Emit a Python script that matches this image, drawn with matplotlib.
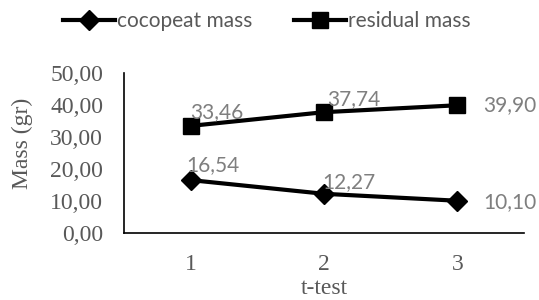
import matplotlib
matplotlib.use("Agg")
import matplotlib.pyplot as plt

plt.rcParams["font.serif"] = ["Liberation Serif", "DejaVu Serif"]

x_cats = [1, 2, 3]
cocopeat = [16.54, 12.27, 10.10]
residual = [33.46, 37.74, 39.90]
y_ticks = [0, 10, 20, 30, 40, 50]

def fmt(v):
    return f"{v:.2f}".replace(".", ",")

fig = plt.figure(figsize=(5.39, 3.0), dpi=100)
ax = fig.add_axes([0.230, 0.223, 0.742, 0.534])

l1, = ax.plot(x_cats, cocopeat, color="black", lw=3, marker="D", markersize=10, label="cocopeat mass")
l2, = ax.plot(x_cats, residual, color="black", lw=3, marker="s", markersize=12, label="residual mass")

ax.set_xlim(0.5, 3.5)
ax.set_ylim(0, 50)
ax.set_yticks(y_ticks)
ax.set_yticklabels([fmt(v) for v in y_ticks])
ax.set_xticks(x_cats)
ax.set_xticklabels([str(v) for v in x_cats])
for s in ["top", "right"]:
    ax.spines[s].set_visible(False)
for s in ["left", "bottom"]:
    ax.spines[s].set_linewidth(1.2)
ax.tick_params(axis="y", length=0, pad=15)
ax.tick_params(axis="x", length=0, pad=15)
for lab in ax.get_yticklabels() + ax.get_xticklabels():
    lab.set_fontfamily("serif")
    lab.set_color("#595959")
    lab.set_fontsize(17)

ax.set_ylabel("Mass (gr)", fontfamily="serif", fontsize=17, color="#595959")
ax.yaxis.set_label_coords(-0.228, 0.56)
ax.set_xlabel("t-test", fontfamily="serif", fontsize=17, color="#595959", labelpad=2)

lab_font = dict(fontfamily="Lato", fontsize=15, color="#7f7f7f")
coc_off = [(-3, 11), (-1.5, 8.5), (19, -1)]
res_off = [(0, 10), (2, 9.5), (19, 0)]
for xv, yv, off in zip(x_cats, cocopeat, coc_off):
    ax.annotate(fmt(yv), (xv, yv), xytext=off, textcoords="offset points",
                ha="left", va="center", **lab_font)
for xv, yv, off in zip(x_cats, residual, res_off):
    ax.annotate(fmt(yv), (xv, yv), xytext=off, textcoords="offset points",
                ha="left", va="center", **lab_font)

leg = fig.legend(handles=[l1, l2], loc="center", bbox_to_anchor=(0.495, 0.93), ncol=2,
                 frameon=False, handlelength=2.5, columnspacing=2.0, handletextpad=0.1,
                 prop={"family": "Lato", "size": 15})
for t in leg.get_texts():
    t.set_color("#595959")

fig.savefig("out.png", dpi=100)
